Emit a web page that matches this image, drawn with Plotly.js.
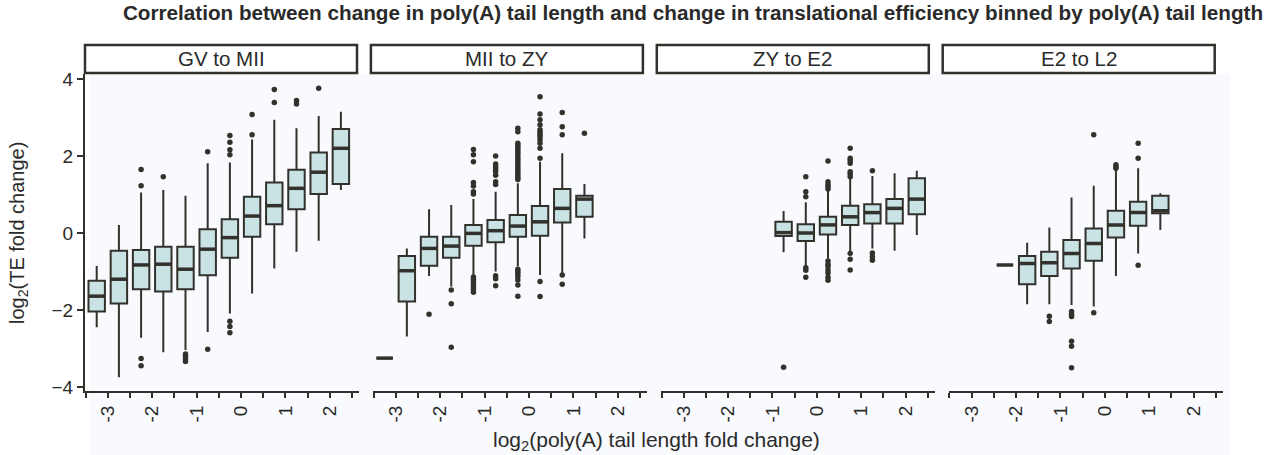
<!DOCTYPE html>
<html>
<head>
<meta charset="utf-8">
<script src="https://cdn.plot.ly/plotly-3.0.1.min.js"></script>
<style>html,body{margin:0;padding:0;background:#fff;}#chart{width:1275px;height:455px;}</style>
</head>
<body>
<div id="chart"></div>
<script>
// ---------- data ----------
const stages = ['GV to MII', 'MII to ZY', 'ZY to E2', 'E2 to L2'];
const xTickVals = [-3, -2, -1, 0, 1, 2];
const xTickText = ['-3', '-2', '-1', '0', '1', '2'];
const yTickVals = [-4, -2, 0, 2, 4];

// GV to MII
const binsGV = [-3.25, -2.75, -2.25, -1.75, -1.25, -0.75, -0.25, 0.25, 0.75, 1.25, 1.75, 2.25];
const loGV  = [-2.45, -3.75, -2.72, -3.10, -3.04, -2.57, -2.09, -1.57, -0.92, -0.49, -0.20, 1.12];
const q1GV  = [-2.04, -1.83, -1.46, -1.52, -1.46, -1.10, -0.64, -0.10, 0.23, 0.62, 1.01, 1.27];
const medGV = [-1.64, -1.20, -0.83, -0.81, -0.94, -0.42, -0.12, 0.44, 0.71, 1.16, 1.58, 2.20];
const q3GV  = [-1.24, -0.46, -0.44, -0.36, -0.36, 0.10, 0.36, 0.94, 1.31, 1.64, 2.09, 2.70];
const hiGV  = [-0.86, 0.21, 1.05, 1.12, 0.97, 1.81, 1.83, 2.43, 2.94, 2.72, 3.04, 3.15];
const outGV = [[], [], [1.65, 1.23, -3.26, -3.45], [1.46], [-3.14, -3.21, -3.27, -3.34],
  [2.11, -3.02], [2.53, 2.36, 2.16, 2.03, -2.29, -2.43, -2.59], [3.08, 2.55], [3.73, 3.39],
  [3.44, 3.35], [3.76], []];

// MII to ZY
const binsMZ = [-3.25, -2.75, -2.25, -1.75, -1.25, -0.75, -0.25, 0.25, 0.75, 1.25];
const loMZ  = [-3.25, -2.69, -1.12, -1.39, -1.09, -1.00, -0.87, -1.09, -1.05, -0.14];
const q1MZ  = [-3.25, -1.78, -0.85, -0.64, -0.33, -0.24, -0.10, -0.07, 0.27, 0.42];
const medMZ = [-3.25, -0.98, -0.40, -0.34, -0.01, 0.06, 0.18, 0.29, 0.64, 0.88];
const q3MZ  = [-3.25, -0.60, -0.10, -0.10, 0.21, 0.34, 0.47, 0.70, 1.14, 0.97];
const hiMZ  = [-3.25, -0.40, 0.62, 0.73, 0.88, 1.07, 1.29, 1.85, 2.07, 1.27];
const outMZ = [[], [], [-2.11], [-1.48, -1.84, -2.97],
  [2.17, 2.03, 1.85, 1.31, 1.22, 1.07, 1.01, -1.14, -1.20, -1.26, -1.33, -1.40, -1.47, -1.54],
  [2.00, 1.79, 1.72, 1.66, 1.60, 1.50, 1.33, 1.26, -1.11, -1.19, -1.37],
  [2.72, 2.63, 2.33, 2.27, 2.22, 2.16, 2.10, 2.03, 1.96, 1.90, 1.84, 1.77, 1.70, 1.64, 1.58, 1.51, 1.45, 1.39,
   -0.94, -1.00, -1.06, -1.13, -1.22, -1.35, -1.64],
  [3.54, 3.09, 2.94, 2.81, 2.68, 2.62, 2.56, 2.50, 2.42, 2.33, 2.20, 1.94, -1.26, -1.65],
  [3.13, 2.76, 2.55, -1.09, -1.33], [2.59]];

// ZY to E2
const binsZE = [-0.75, -0.25, 0.25, 0.75, 1.25, 1.75, 2.25];
const loZE  = [-0.50, -0.87, -0.66, -0.49, -0.40, -0.46, -0.05];
const q1ZE  = [-0.08, -0.21, -0.04, 0.21, 0.25, 0.25, 0.49];
const medZE = [0.01, 0.00, 0.21, 0.42, 0.53, 0.64, 0.88];
const q3ZE  = [0.29, 0.23, 0.42, 0.71, 0.75, 0.88, 1.42];
const hiZE  = [0.57, 0.80, 1.12, 1.42, 1.48, 1.55, 1.62];
const outZE = [[-3.49], [1.46, 1.07, 0.94, -0.90, -0.97, -1.15],
  [1.87, 1.33, 1.26, 1.20, 1.14, -0.73, -0.81, -0.87, -0.96, -1.04, -1.15, -1.23],
  [2.20, 1.94, 1.88, 1.81, 1.59, 1.53, 1.46, -0.53, -0.68, -0.96],
  [1.62, -0.52, -0.62, -0.71], [], []];

// E2 to L2
const binsEL = [-2.25, -1.75, -1.25, -0.75, -0.25, 0.25, 0.75, 1.25];
const loEL  = [-0.83, -1.85, -1.85, -1.87, -1.91, -1.12, -0.53, 0.08];
const q1EL  = [-0.83, -1.33, -1.12, -0.92, -0.72, -0.12, 0.19, 0.51];
const medEL = [-0.83, -0.79, -0.77, -0.53, -0.27, 0.21, 0.53, 0.58];
const q3EL  = [-0.83, -0.60, -0.49, -0.18, 0.12, 0.58, 0.81, 0.97];
const hiEL  = [-0.83, -0.25, 0.14, 0.92, 1.23, 1.64, 1.68, 1.03];
const outEL = [[], [], [-2.16, -2.30], [-2.04, -2.11, -2.17, -2.81, -2.94, -3.50],
  [2.55, -2.07], [1.77, 1.72, 1.68], [2.33, 1.94, -0.84], []];

// ---------- style ----------
const FONT = 'Liberation Sans, Arial, Helvetica, sans-serif';
const DARK = '#33312c';
const TXT = '#2a2a2a';
const FILL = '#c9e3e4';
const W = 1275, H = 455;

const panelData = [
  [binsGV, loGV, q1GV, medGV, q3GV, hiGV, outGV],
  [binsMZ, loMZ, q1MZ, medMZ, q3MZ, hiMZ, outMZ],
  [binsZE, loZE, q1ZE, medZE, q3ZE, hiZE, outZE],
  [binsEL, loEL, q1EL, medEL, q3EL, hiEL, outEL]
];

const traces = [];
const layout = {
  width: W, height: H,
  margin: {l: 0, r: 0, t: 0, b: 0},
  paper_bgcolor: '#ffffff',
  plot_bgcolor: 'rgba(0,0,0,0)',
  showlegend: false,
  font: {family: FONT, color: TXT},
  title: {
    text: '<b>Correlation between change in poly(A) tail length and change in translational efficiency binned by poly(A) tail length</b>',
    font: {family: FONT, size: 20.7, color: TXT},
    x: 693 / W, xanchor: 'center', y: 1 - 13 / H, yanchor: 'middle'
  },
  yaxis: {
    domain: [1 - 391 / H, 1 - 74 / H],
    range: [-4.104, 4.13],
    tickvals: yTickVals,
    ticks: 'outside', ticklen: 6, tickwidth: 2, tickcolor: DARK,
    showline: true, linewidth: 2, linecolor: DARK,
    showgrid: false, zeroline: false,
    tickfont: {family: FONT, size: 19, color: TXT},
    anchor: 'x'
  },
  shapes: [{
    type: 'rect', xref: 'paper', yref: 'paper', layer: 'below',
    x0: 90 / W, x1: 1230 / W, y0: 0, y1: 1 - 74 / H,
    fillcolor: '#f8fafd', line: {width: 0}
  }],
  annotations: [
    {text: 'log<sub>2</sub>(TE fold change)', xref: 'paper', yref: 'paper',
     x: 19 / W, y: 1 - 233 / H, xanchor: 'center', yanchor: 'middle', textangle: -90,
     showarrow: false, font: {family: FONT, size: 20, color: TXT}},
    {text: 'log<sub>2</sub>(poly(A) tail length fold change)', xref: 'paper', yref: 'paper',
     x: 656 / W, y: 1 - 441 / H, xanchor: 'center', yanchor: 'middle',
     showarrow: false, font: {family: FONT, size: 21, color: TXT}}
  ]
};

const STEP = 287.95;
panelData.forEach((p, k) => {
  const [bins, lo, q1, med, q3, hi, out] = p;
  const xa = k === 0 ? 'x' : 'x' + (k + 1);
  const axKey = k === 0 ? 'xaxis' : 'xaxis' + (k + 1);
  const d0 = 85 + STEP * k, d1 = 359 + STEP * k;
  layout[axKey] = {
    domain: [d0 / W, d1 / W],
    range: [-3.5135, 2.658],
    tickmode: 'array', tickvals: xTickVals, ticktext: xTickText,
    ticks: 'outside', ticklen: 5, tickwidth: 2, tickcolor: DARK,
    minor: {tickmode: 'linear', tick0: -3.5, dtick: 0.5, ticks: 'outside',
            ticklen: 5, tickwidth: 2, tickcolor: DARK, showgrid: false},
    tickangle: -90,
    showline: true, linewidth: 2, linecolor: DARK,
    showgrid: false, zeroline: false,
    tickfont: {family: FONT, size: 19, color: TXT},
    anchor: 'y'
  };
  // box bodies
  traces.push({
    type: 'box', orientation: 'v', xaxis: xa, yaxis: 'y',
    x: bins, q1: q1, median: med, q3: q3, lowerfence: lo, upperfence: hi,
    width: 0.37, whiskerwidth: 0, boxpoints: false,
    fillcolor: FILL, line: {color: DARK, width: 2}, hoverinfo: 'skip'
  });
  // thicker medians
  traces.push({
    type: 'scatter', mode: 'markers', xaxis: xa, yaxis: 'y',
    x: bins, y: med, hoverinfo: 'skip',
    marker: {symbol: 'line-ew', size: 11.7, color: DARK, line: {color: DARK, width: 3.5}}
  });
  // outliers
  const ox = [], oy = [];
  out.forEach((vals, i) => vals.forEach(v => { ox.push(bins[i]); oy.push(v); }));
  traces.push({
    type: 'scatter', mode: 'markers', xaxis: xa, yaxis: 'y',
    x: ox, y: oy, hoverinfo: 'skip',
    marker: {symbol: 'circle', size: 5.5, color: DARK, line: {width: 0}}
  });
  // strip
  const s0 = 85 + 285.9 * k, s1 = 357 + 285.9 * k;
  layout.shapes.push({
    type: 'rect', xref: 'paper', yref: 'paper',
    x0: s0 / W, x1: s1 / W, y0: 1 - 73 / H, y1: 1 - 45 / H,
    fillcolor: '#ffffff', line: {color: DARK, width: 2.5}
  });
  layout.annotations.push({
    text: stages[k], xref: 'paper', yref: 'paper',
    x: (s0 + s1) / 2 / W, y: 1 - 59 / H, xanchor: 'center', yanchor: 'middle',
    showarrow: false, font: {family: FONT, size: 20.5, color: TXT}
  });
});

Plotly.newPlot('chart', traces, layout, {displayModeBar: false, staticPlot: true}).then(gd => {
  // drop empty placeholder text nodes (e.g. blank axis titles)
  gd.querySelectorAll('text').forEach(t => { if (!t.textContent.trim()) t.remove(); });
});
</script>
</body>
</html>
